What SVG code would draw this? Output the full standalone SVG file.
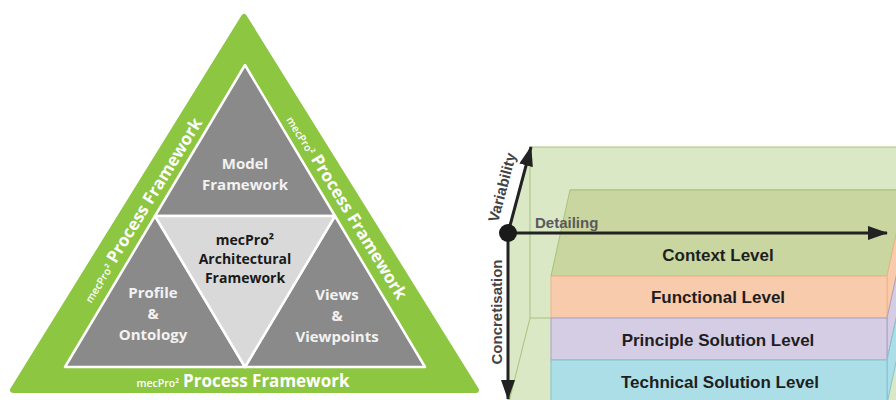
<svg xmlns="http://www.w3.org/2000/svg" width="896" height="400" viewBox="0 0 896 400">
<defs>
<marker id="ah" markerUnits="userSpaceOnUse" markerWidth="20" markerHeight="14" refX="19" refY="7" orient="auto">
<path d="M0,0 L20,7 L0,14 z" fill="#222"/>
</marker>
<clipPath id="vp"><rect x="0" y="0" width="896" height="400"/></clipPath>
</defs>
<style>
.tw{font-family:"Open Sans","Liberation Sans",sans-serif;font-weight:700;font-size:15px;fill:#f2f2f2;text-anchor:middle}
.tb{font-family:"Open Sans","Liberation Sans",sans-serif;font-weight:700;font-size:14px;fill:#1a1a1a;text-anchor:middle}
.band{font-family:"Open Sans","Liberation Sans",sans-serif;fill:#ffffff;text-anchor:middle}
.big{font-weight:700;font-size:17px}
.small{font-weight:600;font-size:10.5px}
.lvl{font-family:"Liberation Sans",Arial,sans-serif;font-weight:700;font-size:17px;fill:#1e1e1e;text-anchor:middle}
.ax{font-family:"Liberation Sans",Arial,sans-serif;font-weight:700;font-size:15px;fill:#444}
.sub{fill:#8a8a8a;stroke:#ffffff;stroke-width:2.5;stroke-linejoin:round}
.edge{fill:none;stroke:#a6c27a;stroke-width:1}
.conn{stroke:#222;stroke-width:3;fill:none}
</style>

<!-- Left: triangle diagram -->
<g id="process-framework">
<polygon points="244,17 13,390 476,390" fill="#8dc640" stroke="#8dc640" stroke-width="6" stroke-linejoin="round"/>
<text class="band" transform="translate(243,381)" dy="6"><tspan class="small">mecPro²</tspan><tspan class="big" dx="4">Process Framework</tspan></text>
<text class="band" transform="translate(142,210) rotate(-58.4)" dy="6"><tspan class="small">mecPro²</tspan><tspan class="big" dx="4">Process Framework</tspan></text>
<text class="band" transform="translate(347,207) rotate(58.4)" dy="6"><tspan class="small">mecPro²</tspan><tspan class="big" dx="4">Process Framework</tspan></text>
</g>

<g id="model-framework">
<polygon class="sub" points="245,65 155,216 335,216"/>
<text class="tw" x="245" y="169">Model</text>
<text class="tw" x="245" y="190">Framework</text>
</g>

<g id="profile-ontology">
<polygon class="sub" points="155,216 65,367 245,367"/>
<text class="tw" x="153" y="298">Profile</text>
<text class="tw" x="153" y="319">&amp;</text>
<text class="tw" x="153" y="340">Ontology</text>
</g>

<g id="views-viewpoints">
<polygon class="sub" points="335,216 245,367 425,367"/>
<text class="tw" x="337" y="300">Views</text>
<text class="tw" x="337" y="321">&amp;</text>
<text class="tw" x="337" y="342">Viewpoints</text>
</g>

<g id="architectural-framework">
<polygon points="155,216 335,216 245,367" fill="#d9d9d9" stroke="#ffffff" stroke-width="2.5" stroke-linejoin="round"/>
<text class="tb" x="245" y="245">mecPro²</text>
<text class="tb" x="245" y="264">Architectural</text>
<text class="tb" x="245" y="283">Framework</text>
</g>

<!-- Right: level cube -->
<g id="variability-space" clip-path="url(#vp)">
<polygon points="508,233 530,147 900,147 900,402 508,402" fill="#dbe8c6"/>
<line class="edge" x1="530" y1="147" x2="900" y2="147"/>
<line class="edge" x1="530" y1="147" x2="530" y2="318"/>
<line class="edge" x1="530" y1="318" x2="551" y2="318"/>
<line class="edge" x1="530" y1="318" x2="509" y2="402"/>
<line class="edge" x1="570" y1="190" x2="900" y2="190"/>
<line class="edge" x1="887" y1="190" x2="887" y2="276"/>
</g>

<g id="context-level" clip-path="url(#vp)">
<polygon points="570,190 906,190 887,276 551,276" fill="#c9d69f" stroke="#a6c27a" stroke-width="1"/>
<text class="lvl" x="718" y="261">Context Level</text>
</g>

<g id="functional-level" clip-path="url(#vp)">
<polygon points="887,276 906,190 906,232 887,318" fill="#f8cbad" stroke="#f4b183" stroke-width="1"/>
<rect x="551" y="276" width="336" height="42" fill="#f8cbad" stroke="#f4b183" stroke-width="1"/>
<text class="lvl" x="718" y="303">Functional Level</text>
</g>

<g id="principle-solution-level" clip-path="url(#vp)">
<polygon points="887,318 906,232 906,274 887,360" fill="#d5cde4" stroke="#a9a0c8" stroke-width="1"/>
<rect x="551" y="318" width="336" height="42" fill="#d5cde4" stroke="#a9a0c8" stroke-width="1"/>
<text class="lvl" x="718" y="346">Principle Solution Level</text>
</g>

<g id="technical-solution-level" clip-path="url(#vp)">
<polygon points="887,360 906,274 906,316 887,404" fill="#acdee7" stroke="#80c4cf" stroke-width="1"/>
<rect x="551" y="360" width="336" height="44" fill="#acdee7" stroke="#80c4cf" stroke-width="1"/>
<text class="lvl" x="720" y="388">Technical Solution Level</text>
</g>

<g id="axes">
<line class="conn" x1="508" y1="233" x2="887" y2="233" marker-end="url(#ah)"/>
<line class="conn" x1="508" y1="233" x2="531" y2="147" marker-end="url(#ah)"/>
<line class="conn" x1="508" y1="233" x2="508" y2="399" marker-end="url(#ah)"/>
<circle cx="508" cy="233" r="9" fill="#1a1a1a"/>
<text class="ax" x="535" y="228" style="fill:#5a5a5a">Detailing</text>
<text class="ax" transform="translate(508,189) rotate(-75.3)" text-anchor="middle" dy="-1">Variability</text>
<text class="ax" transform="translate(502,312) rotate(-90)" text-anchor="middle">Concretisation</text>
</g>
</svg>
